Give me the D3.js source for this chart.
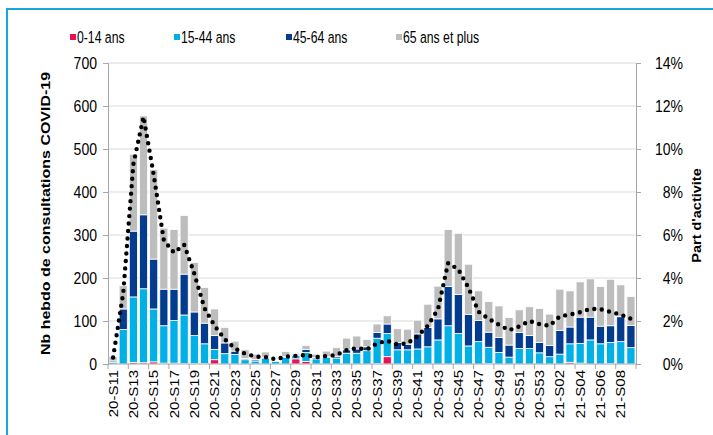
<!DOCTYPE html>
<html><head><meta charset="utf-8">
<script src="https://cdn.jsdelivr.net/npm/d3@7/dist/d3.min.js"></script>
<style>
html,body{margin:0;padding:0;background:#fff;}
svg{display:block;font-family:"Liberation Sans",Arial,sans-serif;}
</style></head>
<body>
<svg id="chart" width="713" height="435"></svg>
<script>
const weeks = ["20-S11","20-S12","20-S13","20-S14","20-S15","20-S16","20-S17","20-S18","20-S19","20-S20",
"20-S21","20-S22","20-S23","20-S24","20-S25","20-S26","20-S27","20-S28","20-S29","20-S30",
"20-S31","20-S32","20-S33","20-S34","20-S35","20-S36","20-S37","20-S38","20-S39","20-S40",
"20-S41","20-S42","20-S43","20-S44","20-S45","20-S46","20-S47","20-S48","20-S49","20-S50",
"20-S51","20-S52","20-S53","21-S01","21-S02","21-S03","21-S04","21-S05","21-S06","21-S07",
"21-S08","21-S09"];
const seriesNames = ["0-14 ans","15-44 ans","45-64 ans","65 ans et plus"];
const age0_14 = [0,0,4,3,5,2,2,1,1,1,10,0,0,0,0,0,0,0,12,6,0,0,0,0,0,0,1,17,0,0,0,0,0,0,0,0,0,1,0,0,0,0,0,0,0,4,2,0,0,1,0,0];
const age15_44 = [4,80,152,172,123,87,99,113,65,46,24,24,22,10,7,14,6,16,8,21,12,15,14,25,25,31,59,54,33,33,35,40,56,89,71,42,52,38,27,16,36,36,26,17,23,43,46,56,47,49,52,38];
const age45_64 = [3,48,153,172,116,85,73,95,55,48,32,25,8,3,3,2,1,2,1,7,3,3,4,8,10,9,13,22,17,13,35,45,49,91,91,73,49,35,35,28,37,30,24,26,55,39,61,53,41,39,58,52];
const age65 = [10,54,179,230,208,142,139,136,115,83,62,36,23,20,13,12,2,11,3,9,8,12,20,27,30,17,20,19,32,35,32,54,76,133,142,117,69,71,73,64,53,67,79,73,96,84,82,89,92,108,74,67];
const partActivite = [0.3,3.3,9.3,11.5,8.8,5.75,5.18,5.55,4.2,2.6,1.78,1.15,0.72,0.48,0.35,0.32,0.22,0.34,0.38,0.42,0.32,0.37,0.42,0.65,0.73,0.68,0.96,1.08,0.91,0.96,1.3,1.78,2.55,4.7,4.4,3.55,2.43,2.1,1.83,1.57,1.75,2.0,1.85,1.78,2.22,2.3,2.41,2.56,2.55,2.42,2.3,2.1];
const leftTicks = [0,100,200,300,400,500,600,700];
const rightTicks = [0,2,4,6,8,10,12,14];
const colors = ["#e8105a","#00b0e6","#033c8e","#bdbdbd"];

const SX = 0.85;
const svg = d3.select("#chart");
const L = 108, R = 636, T = 63, B = 364;

// frame
svg.append("rect").attr("x",7).attr("y",9).attr("width",740).attr("height",460)
  .attr("fill","none").attr("stroke","#12a9df").attr("stroke-width",2);

const x = d3.scaleBand().domain(weeks).range([L,R]).paddingInner(0.2).paddingOuter(0.1);
const y = d3.scaleLinear().domain([0,700]).range([B,T]);
const y2 = d3.scaleLinear().domain([0,14]).range([B,T]);

// grid
svg.append("g").selectAll("line").data(leftTicks.filter(d=>d>0)).join("line")
  .attr("x1",L).attr("x2",R).attr("y1",d=>y(d)).attr("y2",d=>y(d))
  .attr("stroke","#d9d9d9").attr("stroke-width",1);

// stacked bars
const table = weeks.map((w,i)=>({week:w,"0-14 ans":age0_14[i],"15-44 ans":age15_44[i],"45-64 ans":age45_64[i],"65 ans et plus":age65[i]}));
const stack = d3.stack().keys(seriesNames)(table);
svg.append("g").selectAll("g").data(stack).join("g")
  .attr("fill",(d,i)=>colors[i])
  .selectAll("rect").data(d=>d).join("rect")
  .attr("x",d=>x(d.data.week)).attr("width",x.bandwidth())
  .attr("y",d=>y(d[1])).attr("height",d=>Math.max(0,y(d[0])-y(d[1])))
  .attr("stroke","#fff").attr("stroke-width",0.8);

// axes
const axisColor = "#a6a6a6";
const gl = svg.append("g").attr("transform",`translate(${L},0)`)
  .call(d3.axisLeft(y).tickValues(leftTicks).tickSize(5).tickPadding(6).tickFormat(d3.format("d")));
const gr = svg.append("g").attr("transform",`translate(${R},0)`)
  .call(d3.axisRight(y2).tickValues(rightTicks).tickSize(5).tickFormat(d=>d+"%"));
[gl,gr].forEach(g=>{
  g.select(".domain").attr("stroke",axisColor);
  g.selectAll(".tick line").attr("stroke",axisColor);
  g.selectAll("text").attr("font-size",16.5).attr("fill","#000").attr("font-family","Liberation Sans, Arial, sans-serif");
});
gl.selectAll(".tick text").attr("x",null).attr("text-anchor","end").attr("dy","0.35em")
  .attr("transform",`translate(-11,0) scale(${SX},1)`);
gr.selectAll(".tick text").attr("x",null).attr("text-anchor","end").attr("dy","0.35em")
  .attr("transform",`translate(47,0) scale(${SX},1)`);

// x axis
const gx = svg.append("g");
gx.append("line").attr("x1",L).attr("x2",R).attr("y1",B).attr("y2",B).attr("stroke",axisColor);
const step = x.step();
gx.selectAll("line.tk").data(weeks.filter((w,i)=>i%2===0)).join("line").attr("class","tk")
  .attr("x1",d=>x(d)-x.paddingInner()*step/2).attr("x2",d=>x(d)-x.paddingInner()*step/2)
  .attr("y1",B).attr("y2",B+5).attr("stroke",axisColor);
gx.append("line").attr("x1",R).attr("x2",R).attr("y1",B).attr("y2",B+5).attr("stroke",axisColor);
gx.selectAll("text").data(weeks.filter((w,i)=>i%2===0)).join("text")
  .attr("transform",d=>`translate(${x(d)+x.bandwidth()/2},${B+6}) scale(${SX},1) rotate(-90)`)
  .attr("text-anchor","end").attr("dy","0.36em").attr("font-size",15).text(d=>d);

// line
const line = d3.line().x((d,i)=>x(weeks[i])+x.bandwidth()/2).y(d=>y2(d));
svg.append("path").datum(partActivite).attr("d",line)
  .attr("fill","none").attr("stroke","#000").attr("stroke-width",4.4)
  .attr("stroke-linecap","round").attr("stroke-dasharray","0 7.5");

// titles
svg.append("text").attr("transform",`translate(45,${(T+B)/2}) scale(${SX},1) rotate(-90)`)
  .attr("text-anchor","middle").attr("dy","0.35em").attr("font-size",16).attr("font-weight","bold")
  .text("Nb hebdo de consultations COVID-19");
svg.append("text").attr("transform",`translate(697,${(T+B)/2+2}) scale(${SX},1) rotate(-90)`)
  .attr("text-anchor","middle").attr("dy","0.35em").attr("font-size",14.5).attr("font-weight","bold")
  .text("Part d'activite");

// legend
const legX = [70,174,286,396];
const leg = svg.append("g").selectAll("g").data(seriesNames).join("g")
  .attr("transform",(d,i)=>`translate(${legX[i]},37)`);
leg.append("rect").attr("x",0).attr("y",-3).attr("width",6).attr("height",6).attr("fill",(d,i)=>colors[i]);
leg.append("text").attr("transform",`translate(7,0) scale(0.72,1)`).attr("dy","0.35em")
  .attr("font-size",17).text(d=>d);
</script>
</body></html>
